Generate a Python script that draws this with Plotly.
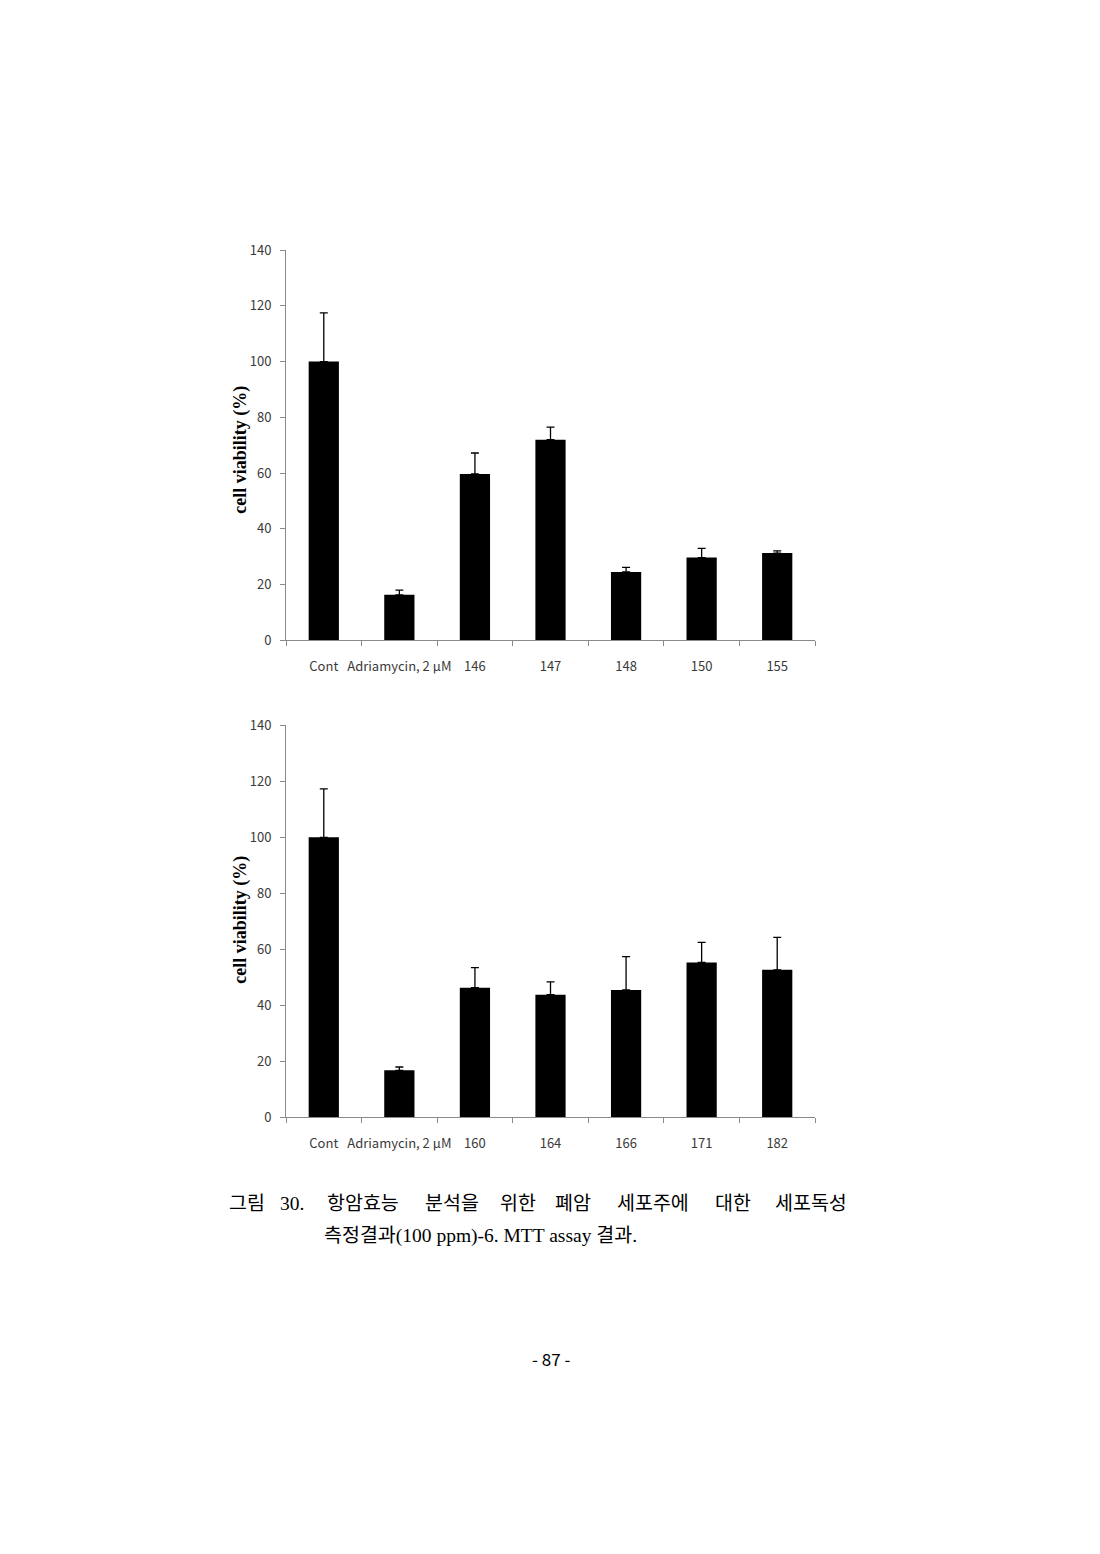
import plotly.graph_objects as go
from plotly.subplots import make_subplots

# top panel
groups_top = ["Cont", "Adriamycin, 2 μM", "146", "147", "148", "150", "155"]
viability_top = [100, 16.3, 59.7, 72.0, 24.5, 29.7, 31.3]
error_top = [17.5, 1.7, 7.5, 4.5, 1.7, 3.3, 0.8]

# bottom panel
groups_bottom = ["Cont", "Adriamycin, 2 μM", "160", "164", "166", "171", "182"]
viability_bottom = [100, 16.8, 46.3, 43.8, 45.5, 55.3, 52.7]
error_bottom = [17.3, 1.2, 7.2, 4.6, 11.9, 7.2, 11.6]

y_ticks = [0, 20, 40, 60, 80, 100, 120, 140]
y_title = "<b>cell viability (%)</b>"

# caption words (first line is justified across the page)
caption_words = ["그림", "30.", "항암효능", "분석을", "위한", "폐암", "세포주에", "대한", "세포독성"]
caption_line2 = "측정결과(100 ppm)-6. MTT assay 결과."
page_label = "- 87 -"

W, H = 1100, 1554
OFF = 8  # page body margin in the rendered html


def px_x(x):
    return (x - OFF) / W


def px_y(y):
    return 1 - (y - OFF) / H


fig = make_subplots(rows=2, cols=1)

panels = [(groups_top, viability_top, error_top), (groups_bottom, viability_bottom, error_bottom)]
for i, (cats, vals, errs) in enumerate(panels, start=1):
    fig.add_trace(go.Bar(
        x=cats, y=vals,
        marker_color="black", marker_line_width=0,
        error_y=dict(type="data", array=errs, symmetric=False,
                     color="black", thickness=1.3, width=4),
        width=0.4, showlegend=False,
    ), row=i, col=1)

tick_font = dict(family="Noto Sans CJK KR, Noto Sans", size=13, color="#3a3a3a")
axis_common = dict(showline=True, linecolor="#8a8a8a", linewidth=1,
                   ticks="outside", tickcolor="#8a8a8a", ticklen=5,
                   showgrid=False, zeroline=False, tickfont=tick_font)

fig.update_xaxes(**axis_common, tickson="boundaries", tickangle=0, ticklabelstandoff=14)
fig.update_yaxes(**axis_common, range=[0, 140], tickvals=y_ticks, ticklabelstandoff=6)

fig.update_layout(
    width=W, height=H,
    margin=dict(l=0, r=0, t=0, b=0),
    plot_bgcolor="white", paper_bgcolor="white",
    xaxis=dict(domain=[px_x(286), px_x(815)], anchor="y"),
    yaxis=dict(domain=[px_y(638), px_y(243)], anchor="x"),
    xaxis2=dict(domain=[px_x(286), px_x(815)], anchor="y2"),
    yaxis2=dict(domain=[px_y(1121), px_y(724)], anchor="x2"),
)

# y-axis titles placed by hand, close to the tick labels as in the original
for yc in (445, 921):
    fig.add_annotation(
        text=y_title, xref="paper", yref="paper", x=px_x(241), y=px_y(yc),
        xanchor="center", yanchor="middle", textangle=-90, showarrow=False,
        font=dict(family="Liberation Serif", size=18, color="black"))

caption_font = dict(family="Liberation Serif, Noto Sans CJK KR", size=19.5, color="black")
word_x = [227, 278, 325, 423, 498, 553, 615, 713, 773]
for word, wx in zip(caption_words, word_x):
    fig.add_annotation(
        text=word, xref="paper", yref="paper", x=px_x(wx), y=px_y(1208),
        xanchor="left", yanchor="middle", showarrow=False, font=caption_font)
fig.add_annotation(
    text=caption_line2,
    xref="paper", yref="paper", x=px_x(322), y=px_y(1241),
    xanchor="left", yanchor="middle", showarrow=False, font=caption_font)
fig.add_annotation(
    text=page_label,
    xref="paper", yref="paper", x=px_x(551), y=px_y(1365),
    xanchor="center", yanchor="middle", showarrow=False,
    font=dict(family="Noto Sans CJK KR", size=17, color="black"))

fig.write_html("out.html")
